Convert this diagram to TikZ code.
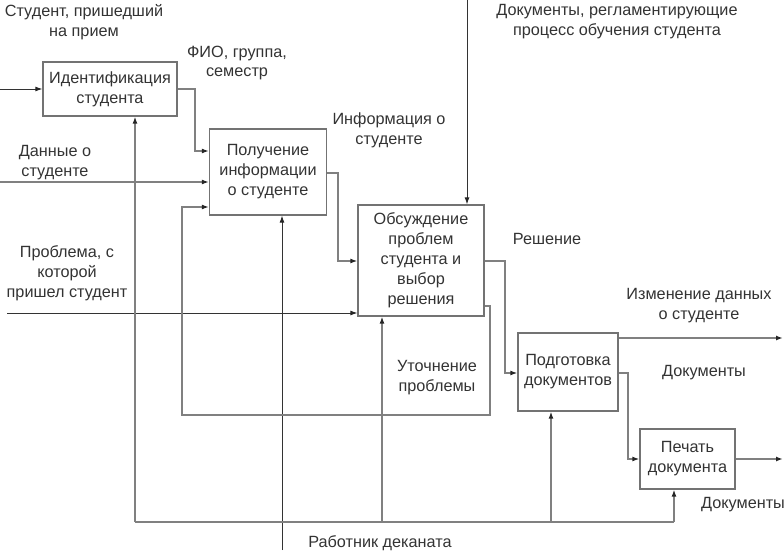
\documentclass[tikz,border=0pt]{standalone}
\usepackage{fontspec}
\setmainfont{Liberation Sans}
\usetikzlibrary{arrows.meta}
\begin{document}
\begin{tikzpicture}[x=1bp,y=-1bp,
  every node/.style={font=\fontsize{16.3}{20}\selectfont, text=black!80},
  box/.style={draw=black!55, line width=1.3bp, fill=white, align=center, inner sep=0pt},
  lbl/.style={align=center, inner sep=0pt},
  conn/.style={draw=black!50, line width=1.4bp, -{Latex[length=7bp,width=5bp,color=black!85]}},
  thin/.style={draw=black!80, line width=0.9bp, -{Latex[length=7bp,width=5bp,color=black!85]}},
  plain/.style={draw=black!50, line width=1.4bp}]
\useasboundingbox (0,0) rectangle (784,555);

% boxes
\node[box, minimum width=134bp, minimum height=54bp] (b1) at (110,89) {Идентификация\\студента};
\node[box, minimum width=117bp, minimum height=86bp] (b2) at (268,172) {Получение\\информации\\о студенте};
\node[box, minimum width=126bp, minimum height=111bp] (b3) at (421,260.5) {Обсуждение\\проблем\\студента и\\выбор\\решения};
\node[box, minimum width=100bp, minimum height=78bp] (b4) at (568,372) {Подготовка\\документов};
\node[box, minimum width=95bp, minimum height=60bp] (b5) at (687.5,459) {Печать\\документа};

% free ends
\coordinate (in1) at (0,89);
\coordinate (in2) at (0,182);
\coordinate (in3) at (7,313);
\coordinate (ctl) at (467,0);
\coordinate (mech) at (282,550);
\coordinate (out1) at (783,338);
\coordinate (out2) at (783,459);
\coordinate (m0) at (135,522);
\coordinate (m1) at (674,522);

% inputs
\draw[thin] (in1) -- (b1.west);
\draw[conn] (in2) -- (in2 -| b2.west);
\draw[thin] (in3) -- (in3 -| b3.west);
\draw[thin] (ctl) -- (b3.north -| ctl);
\draw[thin] (mech) -- (b2.south -| mech);

% box1 -> box2
\draw[conn] (b1.east) -- (195,89) -- (195,151) -- (b2.west |- 0,151);
% box2 -> box3
\draw[conn] (b2.east |- 0,173) -- (338,173) -- (338,261) -- (b3.west |- 0,261);
% feedback box3 -> box2
\draw[conn] (b3.east |- 0,306) -- (490,306) -- (490,415) -- (182,415) -- (182,207) -- (b2.west |- 0,207);
% box3 -> box4
\draw[conn] (b3.east |- 0,261) -- (505,261) -- (505,373) -- (b4.west |- 0,373);
% box4 outputs
\draw[conn] (b4.east |- out1) -- (out1);
\draw[conn] (b4.east |- 0,373) -- (628,373) -- (628,459) -- (b5.west);
% box5 output
\draw[conn] (b5.east) -- (out2);

% mechanism loop
\draw[plain] (m0) -- (m1);
\draw[conn] (m0) -- (b1.south -| m0);
\draw[conn] (m1) -- (b5.south -| m1);
\draw[conn] (382,522) -- (b3.south -| 382,0);
\draw[conn] (551,522) -- (b4.south -| 551,0);

% labels
\node[lbl] (t1) at (84,22) {Студент, пришедший\\на прием};
\node[lbl] (t2) at (237,63) {ФИО, группа,\\семестр};
\node[lbl] (t3) at (55,163) {Данные о\\студенте};
\node[lbl] (t4) at (389,130) {Информация о\\студенте};
\node[lbl] (t5) at (617,22) {Документы, регламентирующие\\процесс обучения студента};
\node[lbl] (t6) at (67,273) {Проблема, с\\которой\\пришел студент};
\node[lbl] (t7) at (547,239) {Решение};
\node[lbl] (t8) at (699,306) {Изменение данных\\о студенте};
\node[lbl] (t9) at (704,373) {Документы};
\node[lbl] (t10) at (437,377.5) {Уточнение\\проблемы};
\node[lbl] (t11) at (743,505) {Документы};
\node[lbl] (t12) at (380,543) {Работник деканата};
\end{tikzpicture}
\end{document}
